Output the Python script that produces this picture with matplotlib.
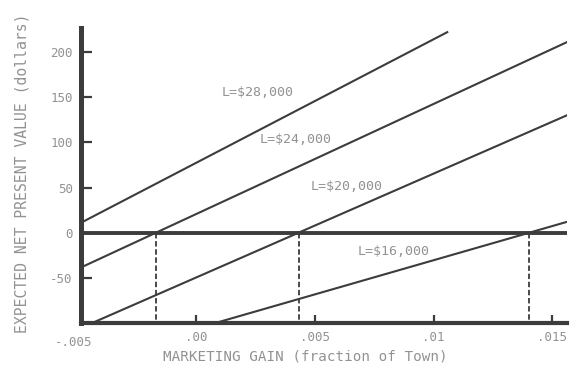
import numpy as np
import matplotlib
matplotlib.use("Agg")
import matplotlib.pyplot as plt

# Lot values and the two end points of each expected-NPV line
lot_values = [28000, 24000, 20000, 16000]
gain_start = [-0.00487, -0.00487, -0.0044, 0.0008]
npv_start = [11, -38.5, -100, -100]
gain_end = [0.01058, 0.01563, 0.01563, 0.01563]
npv_end = [222, 211, 130, 12]

x_ticks = [0.0, 0.005, 0.01, 0.015]
x_tick_labels = [".00", ".005", ".01", ".015"]
y_ticks = [-50, 0, 50, 100, 150, 200]
y_tick_labels = ["-50", "0", "50", "100", "150", "200"]

# label anchors (data coordinates)
label_pos = [(0.00257, 155), (0.00417, 103), (0.00632, 51), (0.0083, -21)]

ink = "#3c3c3c"
text_c = "#929292"
mono = ["DejaVu Sans Mono"]

fig = plt.figure(figsize=(5.73, 3.71), dpi=100)
ax = fig.add_axes([81 / 573, 1 - 323 / 371, (567 - 81) / 573, (323 - 28) / 371])
ax.set_xlim(-0.00487, 0.01563)
ax.set_ylim(-100, 226.6)

for s in ("top", "right"):
    ax.spines[s].set_visible(False)
ax.spines["left"].set_linewidth(3.6)
ax.spines["bottom"].set_linewidth(3.0)
ax.spines["left"].set_color(ink)
ax.spines["bottom"].set_color(ink)

# zero line
ax.axhline(0, color=ink, lw=2.8, zorder=3)

for L, x0, y0, x1, y1, (lx, ly) in zip(lot_values, gain_start, npv_start,
                                        gain_end, npv_end, label_pos):
    ax.plot([x0, x1], [y0, y1], color=ink, lw=1.5, zorder=2)
    slope = (y1 - y0) / (x1 - x0)
    root = x0 - y0 / slope
    if x0 <= root <= x1:
        ax.plot([root, root], [0, -100], color=ink, lw=1.3,
                linestyle=(0, (3, 1.5)), zorder=2)
    ax.text(lx, ly, f"L=${L:,}", ha="center", va="center",
            color=text_c, fontsize=9.5, family=mono)

ax.set_xticks(x_ticks)
ax.set_xticklabels(x_tick_labels)
ax.set_yticks(y_ticks)
ax.set_yticklabels(y_tick_labels)
ax.tick_params(axis="both", direction="in", colors=ink, labelcolor=text_c,
               labelsize=9, width=1.6)
ax.tick_params(axis="y", length=8, pad=6)
ax.tick_params(axis="x", length=6, pad=6)
for t in ax.get_xticklabels() + ax.get_yticklabels():
    t.set_family(mono)

# leftmost x label sits just beyond the axis limit
ax.text(-0.0052, -0.045, "-.005", transform=ax.get_xaxis_transform(),
        ha="center", va="top", color=text_c, fontsize=9, family=mono,
        clip_on=False)

fig.text(305 / 573, 1 - 356 / 371, "MARKETING GAIN (fraction of Town)",
         ha="center", va="center", color=text_c, fontsize=10.3, family=mono)
fig.text(22 / 573, 1 - 173 / 371, "EXPECTED NET PRESENT VALUE (dollars)",
         ha="center", va="center", rotation=90, color=text_c, fontsize=10.6,
         family=mono)

fig.savefig("out.png", dpi=100)
